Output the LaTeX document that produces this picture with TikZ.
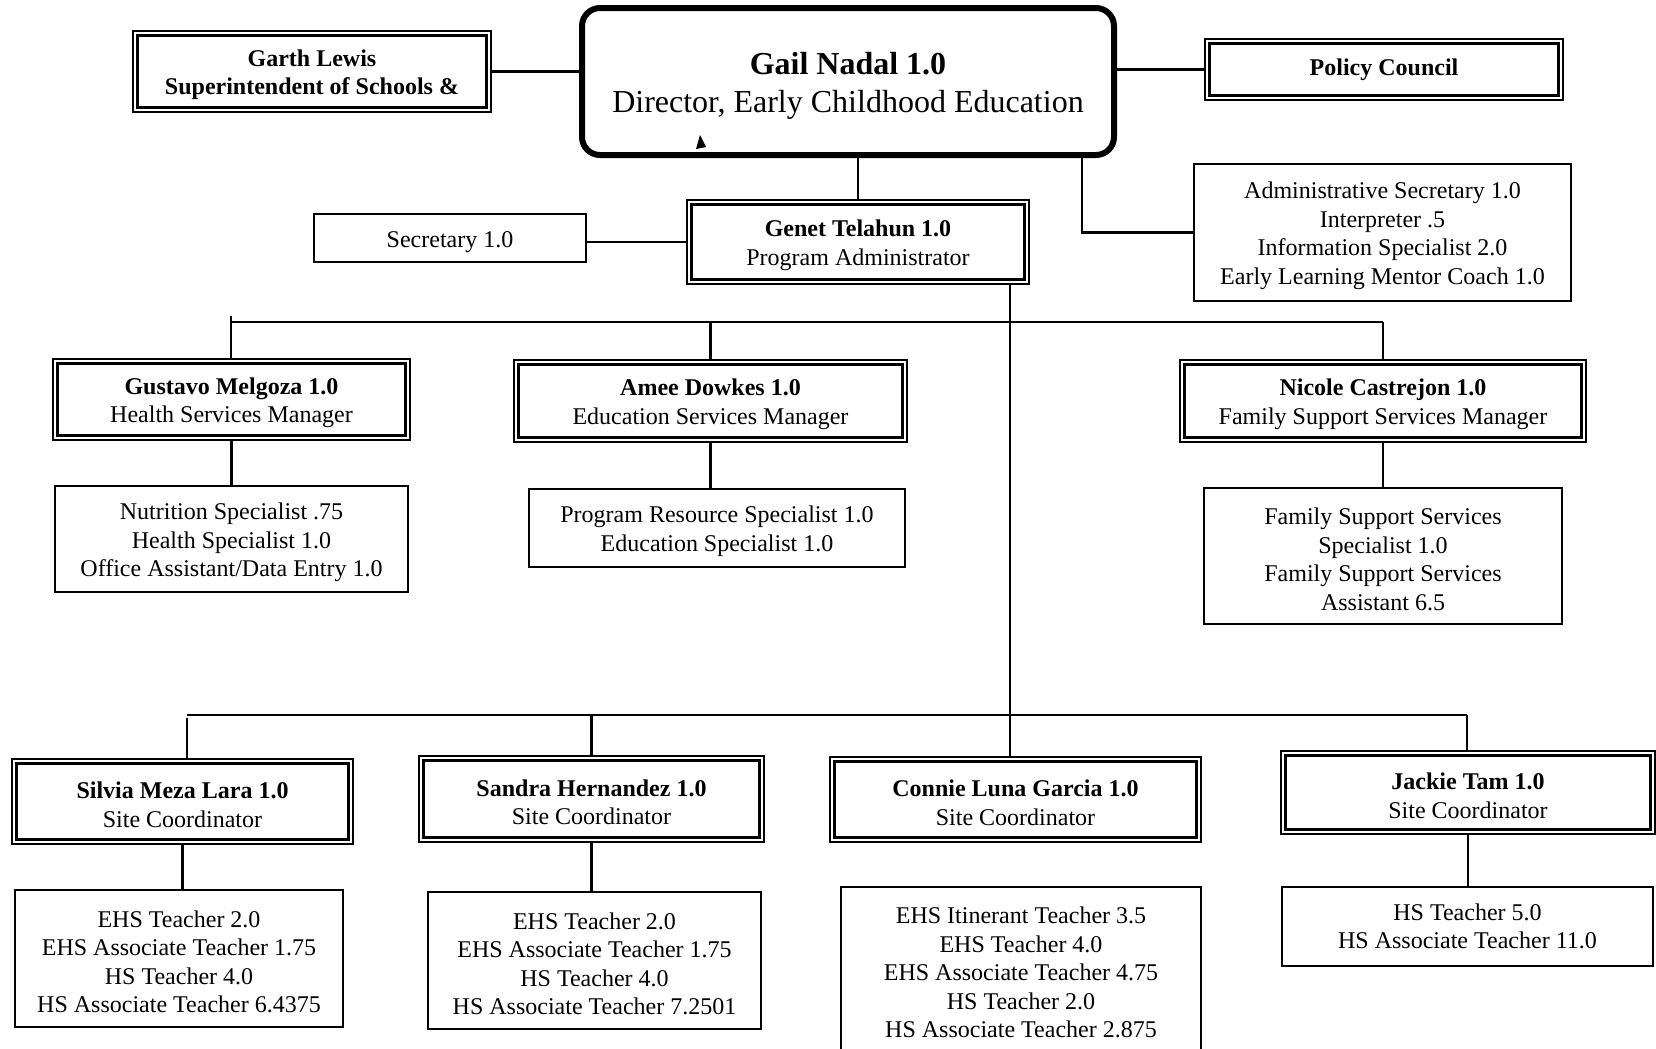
\documentclass[tikz,border=0pt]{standalone}
\usepackage{fontspec}
\setmainfont{Liberation Serif}
\usetikzlibrary{calc}
% struts that lower the first text line a little inside its box
\newcommand\lift{\rule{0pt}{11.6pt}}
\newcommand\liftbig{\rule{0pt}{15.6pt}}
\begin{document}
\begin{tikzpicture}[x=0.5pt,y=-0.5pt,
  area/.style args={#1/#2/#3/#4}{at={({(#1+#3)/2},{(#2+#4)/2})},
    minimum width={(#3-#1)*0.5pt}, minimum height={(#4-#2)*0.5pt}},
  txt/.style={inner sep=0pt, align=center, font=\fontsize{12}{14.25}\selectfont},
  plainbox/.style={txt, draw, line width=1.1pt},
  dblbox/.style={txt, draw, line width=0.8pt},
  topbox/.style={draw, line width=3pt, rounded corners=9pt, inner sep=0pt,
    align=center, font=\fontsize{16}{19}\selectfont},
  link/.style={line width=1.1pt}]
\useasboundingbox (0,0) rectangle (1656,1049);
\clip (0,0) rectangle (1656,1049);
\fill[white] (0,0) rectangle (1656,1049);

% top level
\node[topbox, area=582/8/1114/155] (gail)
  {\liftbig\textbf{Gail Nadal 1.0}\\Director, Early Childhood Education};
\node[dblbox, area=133/31/491/112] (garth)
  {\lift\textbf{Garth Lewis}\\\textbf{Superintendent of Schools \&}};
\node[dblbox, area=1205/39/1563/100] (policy) {\textbf{Policy Council}};
\node[plainbox, area=1194/164/1571/301] (admin)
  {\lift Administrative Secretary 1.0\\Interpreter .5\\Information Specialist 2.0\\Early Learning Mentor Coach 1.0};

% program administration
\node[dblbox, area=687/200/1029/284] (genet)
  {\lift\textbf{Genet Telahun 1.0}\\Program Administrator};
\node[plainbox, area=314/214/586/262] (secretary) {\lift Secretary 1.0};

% service managers
\node[dblbox, area=53/359/410/440] (gustavo)
  {\lift\textbf{Gustavo Melgoza 1.0}\\Health Services Manager};
\node[dblbox, area=514/360/907/442] (amee)
  {\lift\textbf{Amee Dowkes 1.0}\\Education Services Manager};
\node[dblbox, area=1180/360/1586/442] (nicole)
  {\lift\textbf{Nicole Castrejon 1.0}\\Family Support Services Manager};

\node[plainbox, area=55/486/408/592] (nutrition)
  {\lift Nutrition Specialist .75\\Health Specialist 1.0\\Office Assistant/Data Entry 1.0};
\node[plainbox, area=529/489/905/567] (progres)
  {\lift Program Resource Specialist 1.0\\Education Specialist 1.0};
\node[plainbox, area=1204/488/1562/624] (family)
  {\lift Family Support Services\\Specialist 1.0\\Family Support Services\\Assistant 6.5};

% site coordinators
\node[dblbox, area=12/759/353/844] (silvia)
  {\lift\textbf{Silvia Meza Lara 1.0}\\Site Coordinator};
\node[dblbox, area=419/756/764/842] (sandra)
  {\lift\textbf{Sandra Hernandez 1.0}\\Site Coordinator};
\node[dblbox, area=830/757/1201/842] (connie)
  {\lift\textbf{Connie Luna Garcia 1.0}\\Site Coordinator};
\node[dblbox, area=1281/751/1655/834] (jackie)
  {\lift\textbf{Jackie Tam 1.0}\\Site Coordinator};

\node[plainbox, area=15/890/343/1027] (silstaff)
  {\lift EHS Teacher 2.0\\EHS Associate Teacher 1.75\\HS Teacher 4.0\\HS Associate Teacher 6.4375};
\node[plainbox, area=428/892/761/1029] (sanstaff)
  {\lift EHS Teacher 2.0\\EHS Associate Teacher 1.75\\HS Teacher 4.0\\HS Associate Teacher 7.2501};
\node[plainbox, area=841/887/1201/1052] (constaff)
  {\lift EHS Itinerant Teacher 3.5\\EHS Teacher 4.0\\EHS Associate Teacher 4.75\\HS Teacher 2.0\\HS Associate Teacher 2.875};
\node[plainbox, area=1282/887/1653/966] (jacstaff)
  {HS Teacher 5.0\\HS Associate Teacher 11.0};

% inner frames of the double-ruled boxes
\foreach \n in {garth,policy,genet,gustavo,amee,nicole,silvia,sandra,connie,jackie}
  \draw[line width=1.4pt] ([shift={(2.6pt,-2.6pt)}]\n.north west)
    rectangle ([shift={(-2.6pt,2.6pt)}]\n.south east);

% small mark inside the director box
\fill (696,149) -- (700,135) -- (706,147) -- cycle;

% connectors at the top
\draw[link] (garth.east) -- (garth.east -| gail.west);
\draw[link] (policy.west) -- (policy.west -| gail.east);
\draw[link] ($(gail.south east)+(-35,0)$) |- (admin.west);
\draw[link] (genet.north) -- (genet.north |- gail.south);
\draw[link] (genet.west) -- (genet.west -| secretary.east);

% managers' bus
\coordinate (mbusL) at (231,322);
\coordinate (mbusR) at (1383,322);
\draw[link] (mbusL) -- (mbusR);
\draw[link] ($(mbusL)+(0,-6)$) -- (mbusL |- gustavo.north);
\draw[link] (amee.north) -- (amee.north |- mbusL);
\draw[link] (nicole.north) -- (nicole.north |- mbusR);

\draw[link] (gustavo.south) -- (gustavo.south |- nutrition.north);
\draw[link] (amee.south) -- (amee.south |- progres.north);
\draw[link] (nicole.south) -- (nicole.south |- family.north);

% site coordinators' bus
\coordinate (gdrop) at ($(genet.south east)+(-20,0)$);
\draw[link] (gdrop) -- (gdrop |- connie.north);
\coordinate (sbusL) at (187,715);
\coordinate (sbusR) at (1467,715);
\draw[link] (sbusL) -- (sbusR);
\draw[link] ($(sbusL)+(0,3)$) -- (sbusL |- silvia.north);
\draw[link] (sandra.north) -- (sandra.north |- sbusL);
\draw[link] (sbusR) -- (sbusR |- jackie.north);

\draw[link] (silvia.south) -- (silvia.south |- silstaff.north);
\draw[link] (sandra.south) -- (sandra.south |- sanstaff.north);
\draw[link] ($(connie.south)+(-6,0)$) -- ($(connie.south)+(-6,0)$ |- constaff.north);
\draw[link] (jackie.south) -- (jackie.south |- jacstaff.north);
\end{tikzpicture}
\end{document}
